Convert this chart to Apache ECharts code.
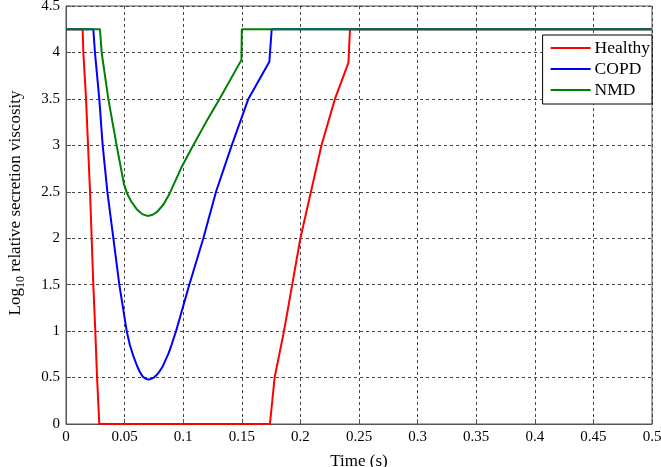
<!DOCTYPE html>
<html>
<head>
<meta charset="utf-8">
<script src="https://cdn.jsdelivr.net/npm/echarts@6/dist/echarts.min.js"></script>
<style>
  html, body { margin: 0; padding: 0; background: #fff; }
  #chart { width: 661px; height: 467px; }
</style>
</head>
<body>
<div id="chart"></div>
<script>
// values
const seriesNames = ["Healthy", "COPD", "NMD"];

const healthyTime  = [0, 0.0142, 0.0148, 0.0171, 0.0188, 0.0205, 0.0219, 0.0233, 0.025, 0.0265, 0.0284, 0.174, 0.178, 0.186, 0.193, 0.200, 0.209, 0.218, 0.2295, 0.241, 0.2423, 0.5];
const healthyValue = [4.25, 4.25, 4.0, 3.5, 3.0, 2.5, 2.0, 1.5, 1.0, 0.5, 0, 0, 0.5, 1.0, 1.5, 2.0, 2.5, 3.0, 3.5, 3.89, 4.25, 4.25];

const copdTime  = [0, 0.0233, 0.0247, 0.0284, 0.0313, 0.0353, 0.0404, 0.0455, 0.0518, 0.0545, 0.0575, 0.0605, 0.063, 0.0655, 0.068, 0.0702, 0.0725, 0.075, 0.0775, 0.080, 0.0825, 0.085, 0.0875, 0.090, 0.0939, 0.1052, 0.1172, 0.128, 0.1414, 0.1556, 0.1735, 0.1755, 0.5];
const copdValue = [4.25, 4.25, 4.0, 3.5, 3.0, 2.5, 2.0, 1.5, 1.0, 0.85, 0.73, 0.63, 0.56, 0.51, 0.487, 0.48, 0.485, 0.5, 0.53, 0.57, 0.62, 0.69, 0.76, 0.85, 1.0, 1.5, 2.0, 2.5, 3.0, 3.5, 3.9, 4.25, 4.25];

const nmdTime  = [0, 0.029, 0.0304, 0.0361, 0.0432, 0.0495, 0.0525, 0.0560, 0.0605, 0.0650, 0.0694, 0.0735, 0.0774, 0.083, 0.088, 0.098, 0.1086, 0.1195, 0.131, 0.1497, 0.150, 0.5];
const nmdValue = [4.25, 4.25, 4.0, 3.5, 3.0, 2.58, 2.47, 2.39, 2.31, 2.26, 2.24, 2.25, 2.28, 2.36, 2.47, 2.75, 3.0, 3.25, 3.5, 3.92, 4.25, 4.25];

const colors = ["#ff0000", "#0000ff", "#008000"];

function zip(t, v) { return t.map((x, i) => [x, v[i]]); }

const font = "Liberation Serif";
const gridLine = {show: true, lineStyle: {color: "#444", width: 1, type: [3, 3]}};

let chart = echarts.init(document.getElementById("chart"));
chart.setOption({
  animation: false,
  backgroundColor: "#fff",
  grid: {left: 66, right: 9, top: 6, bottom: 43, outerBoundsMode: "none", containLabel: false,
         show: true, borderColor: "#555", borderWidth: 1, backgroundColor: "transparent"},
  legend: {
    data: seriesNames,
    orient: "vertical",
    right: 9, top: 35,
    icon: "rect",
    itemWidth: 40, itemHeight: 2,
    itemGap: 3,
    padding: [4, 2, 5, 8],
    borderColor: "#000", borderWidth: 1,
    backgroundColor: "#fff",
    textStyle: {fontFamily: font, fontSize: 17.5, color: "#000", padding: [0, 0, 0, -1]}
  },
  xAxis: {
    type: "value", min: 0, max: 0.5, interval: 0.05,
    name: "Time (s)", nameLocation: "middle", nameGap: 29,
    nameTextStyle: {fontFamily: font, fontSize: 17, color: "#000"},
    axisLine: {lineStyle: {color: "#555"}},
    axisTick: {inside: true, length: 5, lineStyle: {color: "#555"}},
    axisLabel: {fontFamily: font, fontSize: 15, color: "#000", margin: 6, formatter: v => String(+v.toFixed(2))},
    splitLine: gridLine
  },
  yAxis: {
    type: "value", min: 0, max: 4.5, interval: 0.5,
    name: "{a|Log}{b|10}{a| relative secretion viscosity}",
    nameLocation: "middle", nameGap: 42,
    nameTextStyle: {
      padding: [0, 0, 0, 24],
      rich: {
        a: {fontFamily: font, fontSize: 17, color: "#000", lineHeight: 20, verticalAlign: "bottom"},
        b: {fontFamily: font, fontSize: 12, color: "#000", lineHeight: 20, verticalAlign: "bottom", padding: [0, 0, -3, 0]}
      }
    },
    axisLine: {show: true, lineStyle: {color: "#555"}},
    axisTick: {show: true, inside: true, length: 5, lineStyle: {color: "#555"}},
    axisLabel: {fontFamily: font, fontSize: 15, color: "#000", margin: 6},
    splitLine: gridLine
  },
  series: [
    {name: seriesNames[0], type: "line", data: zip(healthyTime, healthyValue), showSymbol: false, lineStyle: {width: 2, color: colors[0]}, itemStyle: {color: colors[0]}},
    {name: seriesNames[1], type: "line", data: zip(copdTime, copdValue), showSymbol: false, lineStyle: {width: 2, color: colors[1]}, itemStyle: {color: colors[1]}},
    {name: seriesNames[2], type: "line", data: zip(nmdTime, nmdValue), showSymbol: false, lineStyle: {width: 2, color: colors[2]}, itemStyle: {color: colors[2]}}
  ]
});
</script>
</body>
</html>
